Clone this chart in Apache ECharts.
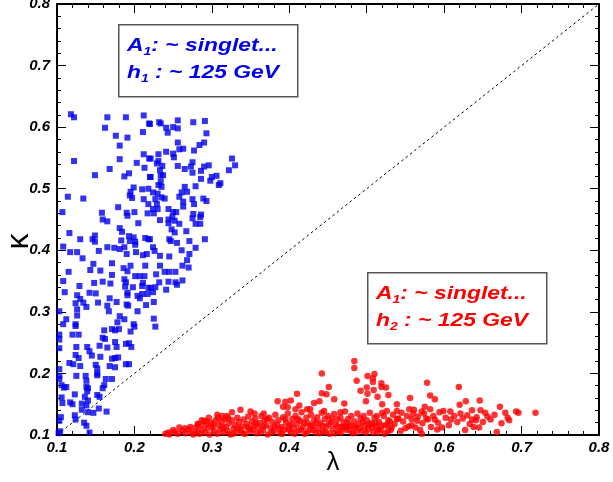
<!DOCTYPE html>
<html><head><meta charset="utf-8">
<script src="https://cdn.jsdelivr.net/npm/echarts@6/dist/echarts.min.js"></script>
<style>html,body{margin:0;padding:0;background:#fff}#c{width:613px;height:482px}</style>
</head><body><div id="c"></div>
<script>
// Data (lambda, kappa)
const blueSquares = [
[0.118,0.621],[0.122,0.616],[0.165,0.616],[0.189,0.616],[0.212,0.619],[0.219,0.606],[0.162,0.599],[0.211,0.592],[0.176,0.586],[0.191,0.583],
[0.181,0.570],[0.212,0.556],[0.219,0.549],[0.122,0.545],[0.181,0.548],[0.203,0.542],[0.213,0.534],[0.168,0.532],[0.149,0.522],[0.187,0.520],
[0.193,0.525],[0.220,0.519],[0.199,0.502],[0.195,0.495],[0.210,0.499],[0.218,0.500],[0.194,0.489],[0.197,0.485],[0.114,0.487],[0.134,0.484],
[0.212,0.483],[0.218,0.475],[0.179,0.470],[0.107,0.462],[0.158,0.461],[0.190,0.461],[0.200,0.462],[0.217,0.460],
[0.220,0.605],[0.232,0.608],[0.234,0.606],[0.256,0.611],[0.276,0.608],[0.291,0.610],[0.241,0.599],[0.250,0.600],[0.256,0.598],[0.243,0.591],
[0.293,0.590],[0.256,0.575],[0.290,0.575],[0.284,0.571],[0.258,0.564],[0.263,0.565],[0.277,0.562],[0.241,0.560],[0.231,0.556],[0.250,0.557],
[0.251,0.551],[0.221,0.549],[0.231,0.545],[0.229,0.541],[0.236,0.537],[0.256,0.537],[0.275,0.543],[0.273,0.536],[0.265,0.532],[0.290,0.536],
[0.296,0.538],[0.326,0.549],[0.330,0.538],[0.322,0.530],[0.233,0.530],[0.275,0.526],[0.286,0.529],[0.237,0.522],[0.234,0.521],[0.221,0.519],
[0.300,0.519],[0.306,0.521],[0.286,0.516],[0.298,0.513],[0.311,0.509],[0.309,0.506],[0.234,0.511],[0.231,0.506],[0.235,0.503],[0.265,0.503],
[0.279,0.504],[0.224,0.494],[0.230,0.492],[0.261,0.494],[0.268,0.495],[0.235,0.486],[0.258,0.487],[0.227,0.483],[0.239,0.484],[0.275,0.483],
[0.289,0.484],[0.293,0.480],[0.263,0.479],[0.229,0.475],[0.277,0.475],[0.263,0.471],[0.244,0.467],[0.224,0.467],[0.230,0.467],[0.250,0.462],
[0.254,0.462],[0.276,0.459],[0.286,0.458],[0.225,0.460],
[0.159,0.450],[0.165,0.447],[0.191,0.456],[0.205,0.444],[0.181,0.436],[0.184,0.430],[0.116,0.428],[0.149,0.424],[0.130,0.418],[0.146,0.418],
[0.149,0.414],[0.193,0.423],[0.199,0.421],[0.201,0.414],[0.194,0.415],[0.183,0.416],[0.214,0.420],[0.218,0.418],[0.201,0.409],[0.108,0.406],
[0.165,0.405],[0.174,0.404],[0.181,0.402],[0.187,0.405],[0.154,0.399],[0.117,0.397],[0.126,0.397],[0.190,0.394],[0.202,0.397],[0.211,0.392],
[0.216,0.394],[0.133,0.387],[0.147,0.378],[0.171,0.379],[0.214,0.375],[0.195,0.375],[0.186,0.371],[0.191,0.366],[0.143,0.368],[0.156,0.367],
[0.115,0.365],[0.171,0.360],[0.201,0.358],[0.207,0.358],[0.213,0.358],[0.187,0.353],[0.108,0.350],[0.148,0.347],[0.159,0.349],[0.169,0.346],
[0.189,0.348],[0.211,0.347],[0.129,0.342],[0.188,0.341],[0.198,0.340],[0.210,0.342],[0.218,0.339],[0.110,0.332],[0.142,0.331],[0.150,0.330],
[0.191,0.331],[0.191,0.327],[0.126,0.327],[0.204,0.326],[0.210,0.329],[0.217,0.329],[0.207,0.322],[0.168,0.322],[0.130,0.321],[0.134,0.315],
[0.124,0.314],[0.153,0.315],[0.177,0.316],[0.190,0.312],[0.192,0.310],[0.165,0.310],[0.138,0.308],[0.215,0.311],[0.126,0.304],[0.167,0.301],
[0.204,0.301],[0.103,0.301],[0.126,0.294],[0.181,0.293],[0.187,0.288],[0.112,0.288],[0.178,0.283],[0.199,0.280],[0.124,0.280],[0.108,0.280],
[0.233,0.449],[0.244,0.450],[0.249,0.454],[0.252,0.448],[0.244,0.444],[0.258,0.443],[0.275,0.452],[0.279,0.443],[0.285,0.454],[0.285,0.443],
[0.248,0.434],[0.252,0.429],[0.267,0.431],[0.245,0.418],[0.247,0.415],[0.255,0.412],[0.271,0.415],[0.291,0.418],[0.220,0.418],[0.224,0.405],
[0.226,0.399],[0.261,0.400],[0.279,0.404],[0.233,0.391],[0.245,0.390],[0.271,0.394],[0.268,0.384],[0.233,0.375],[0.262,0.375],[0.270,0.372],
[0.239,0.365],[0.245,0.365],[0.253,0.365],[0.228,0.361],[0.232,0.348],[0.244,0.349],[0.253,0.348],[0.262,0.351],[0.255,0.344],[0.227,0.340],
[0.221,0.339],[0.241,0.336],[0.224,0.332],[0.225,0.316],[0.225,0.289],[0.227,0.276],
[0.124,0.277],[0.120,0.263],[0.128,0.263],[0.161,0.270],[0.171,0.272],[0.175,0.270],[0.180,0.272],[0.200,0.276],[0.195,0.268],[0.103,0.263],
[0.103,0.255],[0.103,0.241],[0.159,0.258],[0.162,0.256],[0.175,0.251],[0.155,0.245],[0.165,0.242],[0.177,0.243],[0.189,0.248],[0.193,0.249],
[0.196,0.243],[0.125,0.243],[0.139,0.243],[0.124,0.230],[0.128,0.225],[0.142,0.236],[0.145,0.229],[0.156,0.227],[0.175,0.225],[0.179,0.226],
[0.171,0.224],[0.116,0.217],[0.121,0.215],[0.130,0.212],[0.150,0.214],[0.152,0.208],[0.168,0.212],[0.175,0.210],[0.189,0.215],[0.193,0.215],
[0.103,0.207],[0.103,0.196],[0.103,0.191],[0.125,0.196],[0.137,0.196],[0.152,0.200],[0.152,0.197],[0.138,0.188],[0.163,0.191],[0.171,0.191],
[0.106,0.181],[0.112,0.178],[0.109,0.177],[0.138,0.178],[0.140,0.176],[0.161,0.181],[0.159,0.176],[0.139,0.171],[0.152,0.165],[0.155,0.162],
[0.123,0.166],[0.136,0.162],[0.106,0.161],[0.107,0.152],[0.117,0.153],[0.132,0.151],[0.140,0.156],[0.120,0.150],[0.138,0.148],[0.154,0.143],
[0.132,0.141],[0.140,0.137],[0.147,0.136],[0.164,0.138],[0.123,0.132],[0.124,0.125],[0.105,0.129],[0.103,0.123],[0.135,0.120],[0.138,0.115],
[0.104,0.106],[0.142,0.104],[0.102,0.103]
];
const redCircles = [
[0.442,0.200],[0.451,0.178],[0.448,0.166],[0.442,0.168],[0.410,0.167],[0.385,0.155],[0.395,0.154],[0.402,0.156],[0.458,0.158],[0.432,0.152],
[0.439,0.155],[0.413,0.148],[0.392,0.146],[0.398,0.145],[0.423,0.142],[0.427,0.142],[0.408,0.142],[0.337,0.141],[0.326,0.137],[0.350,0.138],
[0.355,0.135],[0.367,0.135],[0.307,0.133],[0.313,0.131],[0.319,0.131],[0.445,0.139],[0.466,0.137],[0.471,0.151],[0.287,0.124],[0.293,0.122],
[0.282,0.118],[0.272,0.113],[0.265,0.111],[0.258,0.112],[0.250,0.108],[0.244,0.104],[0.240,0.102],[0.474,0.113],
[0.484,0.220],[0.484,0.209],[0.501,0.196],[0.510,0.199],[0.508,0.192],[0.508,0.186],[0.487,0.188],[0.519,0.184],[0.525,0.177],[0.519,0.178],
[0.500,0.177],[0.492,0.172],[0.501,0.167],[0.509,0.173],[0.528,0.165],[0.514,0.162],[0.578,0.185],[0.619,0.178],[0.582,0.164],[0.588,0.158],
[0.556,0.160],[0.499,0.155],[0.520,0.150],[0.539,0.150],[0.628,0.155],[0.646,0.156],[0.620,0.149],[0.575,0.146],[0.672,0.146],[0.636,0.140],
[0.647,0.140],[0.679,0.136],[0.693,0.138],[0.696,0.136],[0.718,0.136],[0.682,0.128],[0.684,0.124],[0.653,0.136],[0.656,0.130],[0.630,0.132],
[0.636,0.125],[0.641,0.124],[0.645,0.112],[0.638,0.113],[0.668,0.105],[0.627,0.108],[0.597,0.112],[0.591,0.109],[0.588,0.125],[0.594,0.137],
[0.599,0.139],[0.608,0.138],[0.609,0.125],[0.621,0.135],[0.579,0.125],[0.582,0.142],[0.574,0.135],[0.571,0.138],[0.569,0.108],[0.571,0.102],
[0.558,0.116],[0.565,0.123],[0.560,0.135],[0.561,0.141],[0.555,0.142],[0.545,0.136],[0.539,0.139],[0.526,0.139],[0.520,0.136],[0.513,0.131],
[0.527,0.106],[0.514,0.104],[0.550,0.111],[0.539,0.126],[0.530,0.122],
[0.245,0.101],[0.252,0.105],[0.256,0.102],[0.262,0.107],[0.266,0.103],[0.270,0.109],[0.274,0.104],[0.276,0.101],[0.279,0.112],[0.281,0.106],
[0.284,0.102],[0.286,0.115],[0.288,0.108],[0.291,0.104],[0.293,0.117],[0.295,0.111],[0.297,0.101],[0.299,0.120],[0.301,0.113],[0.303,0.106],
[0.305,0.124],[0.307,0.102],[0.309,0.116],[0.311,0.109],[0.313,0.121],[0.315,0.104],[0.317,0.126],[0.318,0.113],[0.320,0.107],[0.322,0.119],
[0.324,0.101],[0.326,0.124],[0.328,0.110],[0.330,0.116],[0.332,0.104],[0.333,0.128],[0.335,0.121],[0.337,0.108],[0.339,0.114],[0.341,0.125],
[0.343,0.102],[0.345,0.118],[0.347,0.130],[0.348,0.110],[0.350,0.106],[0.352,0.122],[0.354,0.115],[0.356,0.127],[0.358,0.103],[0.360,0.112],
[0.362,0.119],[0.364,0.131],[0.366,0.108],[0.368,0.124],[0.370,0.116],[0.372,0.101],[0.374,0.128],[0.376,0.111],[0.378,0.121],[0.380,0.106],
[0.382,0.133],[0.384,0.117],[0.386,0.124],[0.388,0.103],[0.390,0.113],[0.392,0.129],[0.394,0.109],[0.396,0.120],[0.398,0.135],[0.400,0.115],
[0.402,0.104],[0.404,0.126],[0.406,0.111],[0.408,0.131],[0.410,0.118],[0.412,0.107],[0.414,0.123],[0.416,0.137],[0.418,0.113],[0.420,0.102],
[0.422,0.128],[0.424,0.119],[0.426,0.108],[0.428,0.133],[0.430,0.115],[0.432,0.124],[0.434,0.104],[0.436,0.129],[0.438,0.111],[0.440,0.120],
[0.442,0.136],[0.444,0.106],[0.446,0.126],[0.448,0.114],[0.450,0.131],[0.452,0.102],[0.454,0.121],[0.456,0.110],[0.458,0.134],[0.460,0.117],
[0.462,0.125],[0.464,0.106],[0.466,0.129],[0.468,0.113],[0.470,0.121],[0.472,0.138],[0.474,0.108],[0.476,0.126],[0.478,0.116],[0.480,0.131],
[0.482,0.103],[0.484,0.122],[0.486,0.112],[0.488,0.135],[0.490,0.118],[0.492,0.127],[0.494,0.107],[0.496,0.131],[0.498,0.115],[0.500,0.124],
[0.502,0.110],[0.504,0.136],[0.506,0.119],[0.508,0.104],[0.510,0.128],[0.512,0.114],[0.516,0.121],[0.518,0.109],[0.522,0.131],[0.524,0.116],
[0.528,0.124],[0.532,0.112],[0.534,0.133],[0.536,0.118],[0.541,0.127],[0.544,0.107],[0.547,0.122],[0.552,0.131],[0.554,0.114],[0.558,0.126],
[0.563,0.112],[0.566,0.130],[0.572,0.119],[0.577,0.127],[0.583,0.113],[0.586,0.131],[0.592,0.120],[0.602,0.128],[0.606,0.116],[0.613,0.131],
[0.617,0.121],[0.624,0.127],[0.633,0.118],[0.642,0.129],[0.650,0.121],[0.660,0.125],[0.665,0.133],[0.674,0.119],
[0.282,0.118],[0.290,0.123],[0.296,0.128],[0.302,0.117],[0.308,0.128],[0.314,0.112],[0.321,0.128],[0.327,0.102],[0.334,0.111],[0.340,0.103],
[0.346,0.113],[0.353,0.109],[0.357,0.119],[0.363,0.104],[0.367,0.114],[0.371,0.126],[0.377,0.104],[0.381,0.114],[0.387,0.110],[0.391,0.102],
[0.395,0.126],[0.399,0.109],[0.403,0.118],[0.407,0.102],[0.411,0.126],[0.415,0.109],[0.419,0.120],[0.423,0.104],[0.427,0.115],[0.431,0.108],
[0.435,0.119],[0.439,0.103],[0.443,0.115],[0.447,0.105],[0.451,0.118],[0.455,0.127],[0.459,0.103],[0.463,0.114],[0.467,0.104],[0.471,0.113],
[0.475,0.119],[0.479,0.107],[0.483,0.114],[0.487,0.104],[0.491,0.111],[0.495,0.121],[0.499,0.104],[0.503,0.117],[0.507,0.112],[0.511,0.120],
[0.515,0.108],[0.519,0.115],[0.523,0.102],[0.527,0.117],[0.531,0.108]
];
const diagonal = [[0.1,0.1],[0.8,0.8]];
const axisMin = 0.1, axisMax = 0.8, axisStep = 0.1;
const xName = 'λ', yName = 'κ';
const blueBox = ['A', '1', ': ~ singlet...', 'h', '1', ' : ~ 125 GeV'];
const redBox = ['A', '1', ': ~ singlet...', 'h', '2', ' : ~ 125 GeV'];

const FONT = '"Liberation Sans", Arial, sans-serif';
const chart = echarts.init(document.getElementById('c'), null, {renderer: 'canvas'});
const labelStyle = {fontFamily: FONT, fontWeight: 'bold', fontStyle: 'italic', fontSize: 15, color: '#000'};
function mkAxis(extra) {
  return Object.assign({
    type: 'value', min: axisMin, max: axisMax, interval: axisStep,
    nameMoveOverlap: false,
    axisLine: {show: true, onZero: false, lineStyle: {color: '#000', width: 2}},
    axisTick: {show: true, inside: true, length: 9, lineStyle: {color: '#000', width: 1}},
    minorTick: {show: true, splitNumber: 5, length: 4, lineStyle: {color: '#000', width: 1}},
    splitLine: {show: false},
    axisLabel: Object.assign({formatter: v => v.toFixed(1)}, labelStyle)
  }, extra);
}
function boxGraphic(lines, color, x, y, w, h) {
  const rich = {
    m: {fontFamily: FONT, fontWeight: 'bold', fontStyle: 'italic', fontSize: 18, fill: color},
    s: {fontFamily: FONT, fontWeight: 'bold', fontStyle: 'italic', fontSize: 11, fill: color, padding: [11, 0, 0, 0]}
  };
  return [
    {type: 'rect', left: x, top: y, shape: {width: w, height: h}, style: {fill: '#fff', stroke: '#555', lineWidth: 1.5}, z: 10},
    {type: 'text', left: x + 9, top: y + 9, z: 11, scaleX: 1.27, style: {
      text: '{m|' + lines[0] + '}{s|' + lines[1] + '}{m|' + lines[2] + '}\n{m|' + lines[3] + '}{s|' + lines[4] + '}{m|' + lines[5] + '}',
      rich: rich, lineHeight: 27, fill: color}}
  ];
}
chart.setOption({
  animation: false,
  backgroundColor: '#fff',
  grid: {left: 57, right: 14, top: 4, bottom: 47, containLabel: false, outerBoundsMode: 'none'},
  xAxis: [
    mkAxis({position: 'bottom', name: xName, nameLocation: 'middle', nameGap: 15,
      nameTextStyle: {fontFamily: FONT, fontSize: 26, color: '#000', padding: [0, 0, 0, 10]},
      axisLabel: Object.assign({formatter: v => v.toFixed(1), margin: 5}, labelStyle)}),
    mkAxis({position: 'top', axisLabel: {show: false}})
  ],
  yAxis: [
    mkAxis({position: 'left', name: yName, nameLocation: 'middle', nameGap: 22, nameRotate: 90,
      nameTextStyle: {fontFamily: FONT, fontSize: 32, color: '#000', padding: [0, 44, 0, 0]},
      axisLabel: Object.assign({formatter: v => v.toFixed(1), margin: 7}, labelStyle)}),
    mkAxis({position: 'right', axisLabel: {show: false}})
  ],
  series: [
    {type: 'line', data: diagonal, symbol: 'none', silent: true,
      lineStyle: {color: '#000', width: 1, type: [2.5, 3]}, z: 1},
    {type: 'scatter', data: blueSquares, symbol: 'rect', symbolSize: 6,
      itemStyle: {color: '#0000ee'}, z: 2},
    {type: 'scatter', data: redCircles, symbol: 'circle', symbolSize: 6.5,
      itemStyle: {color: '#ff0000'}, z: 2}
  ],
  graphic: [].concat(boxGraphic(blueBox, '#0000ee', 118, 24, 179, 72), boxGraphic(redBox, '#ff0000', 367, 272, 179, 71))
});
</script></body></html>
